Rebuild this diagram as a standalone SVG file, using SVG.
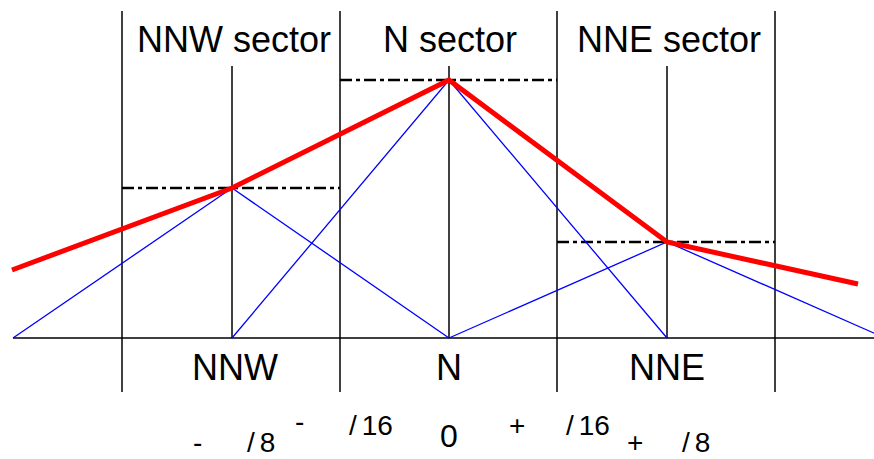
<svg xmlns="http://www.w3.org/2000/svg" width="874" height="459" viewBox="0 0 874 459">
<style>
.ax{stroke:#000;stroke-width:1.5;fill:none}
.dash{stroke:#000;stroke-width:2.6;stroke-dasharray:12 4 4 4;fill:none}
.blue{stroke:#0000ff;stroke-width:1.3;fill:none}
.red{stroke:#ff0000;stroke-width:5;fill:none;stroke-linejoin:miter}
.lbl{font-family:"Liberation Sans",Arial,sans-serif;font-size:36px;fill:#000;text-anchor:middle}
.val{font-family:"Liberation Sans",Arial,sans-serif;font-size:28px;fill:#000}
</style>
<rect width="874" height="459" fill="#fff"/>
<g id="connectors">
<line class="ax" x1="13" y1="338" x2="874" y2="338"/>
<line class="ax" x1="122" y1="11" x2="122" y2="392"/>
<line class="ax" x1="340" y1="11" x2="340" y2="392"/>
<line class="ax" x1="557" y1="11" x2="557" y2="392"/>
<line class="ax" x1="775" y1="11" x2="775" y2="392"/>
<line class="ax" x1="232" y1="66" x2="232" y2="338"/>
<line class="ax" x1="449" y1="66" x2="449" y2="338"/>
<line class="ax" x1="667" y1="66" x2="667" y2="338"/>
<line class="dash" x1="122" y1="188" x2="340" y2="188"/>
<line class="dash" x1="340" y1="80" x2="557" y2="80"/>
<line class="dash" x1="557" y1="242" x2="775" y2="242"/>
<polyline class="blue" points="13,338 232,188 449,338"/>
<polyline class="blue" points="232,338 449,80 667,338"/>
<polyline class="blue" points="449,338 667,242 885,338"/>
<polyline class="red" points="12,270 232,188 449,80 667,242 858,284"/>
</g>
<g id="sector-labels">
<text class="lbl" x="234" y="52">NNW sector</text>
<text class="lbl" x="450" y="52">N sector</text>
<text class="lbl" x="669" y="52">NNE sector</text>
</g>
<g id="direction-labels">
<text class="lbl" x="235" y="380">NNW</text>
<text class="lbl" x="449" y="380">N</text>
<text class="lbl" x="667" y="380">NNE</text>
</g>
<g id="angle-labels">
<text class="val" x="193" y="452">-</text>
<text class="val" x="247" y="452">/<tspan dx="5">8</tspan></text>
<text class="val" x="295" y="431">-</text>
<text class="val" x="349" y="435">/<tspan dx="5">16</tspan></text>
<text class="val" x="440" y="447" style="font-size:32px">0</text>
<text class="val" x="509" y="435">+</text>
<text class="val" x="566" y="435">/<tspan dx="5">16</tspan></text>
<text class="val" x="627" y="452">+</text>
<text class="val" x="682" y="452">/<tspan dx="5">8</tspan></text>
</g>
</svg>
